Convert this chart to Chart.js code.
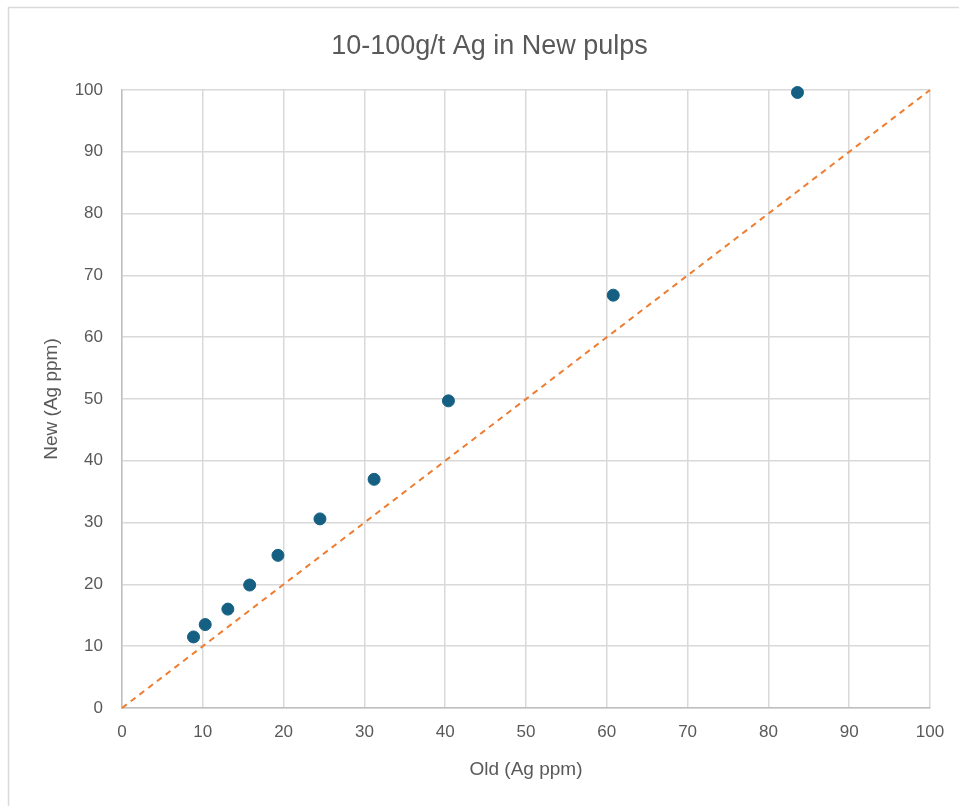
<!DOCTYPE html>
<html>
<head>
<meta charset="utf-8">
<script src="https://cdn.jsdelivr.net/npm/chart.js@4"></script>
<style>
  html, body { margin: 0; padding: 0; background: #fff; }
  #wrap { position: relative; width: 959px; height: 806px; }
</style>
</head>
<body>
<div id="wrap"><canvas id="c" width="959" height="806"></canvas></div>
<script>
// ---- data ----
const oldAg = [8.85, 10.3, 13.1, 15.8, 19.3, 24.5, 31.2, 40.4, 60.8, 83.6];
const newAg = [11.5, 13.5, 16.0, 19.9, 24.7, 30.6, 37.0, 49.7, 66.8, 99.6];
const lineX = [0, 100];
const lineY = [0, 100];
const chartTitle = '10-100g/t Ag in New pulps';
const xTitle = 'Old (Ag ppm)';
const yTitle = 'New (Ag ppm)';

const pts = oldAg.map((x, i) => ({ x: x, y: newAg[i] }));
const linePts = lineX.map((x, i) => ({ x: x, y: lineY[i] }));

const frame = {
  id: 'frame',
  beforeDraw(chart) {
    const ctx = chart.ctx;
    ctx.save();
    ctx.fillStyle = '#ffffff';
    ctx.fillRect(0, 0, chart.width, chart.height);
    ctx.strokeStyle = '#d9d9d9';
    ctx.lineWidth = 1.5;
    ctx.strokeRect(8.5, 7.5, 1200, 1200);
    ctx.restore();
  }
};

const txt = '#595959';
new Chart(document.getElementById('c'), {
  type: 'scatter',
  data: {
    datasets: [
      {
        label: 'Ag',
        data: pts,
        backgroundColor: '#156082',
        borderColor: '#156082',
        pointRadius: 6,
        pointHoverRadius: 6,
        clip: false,
        order: 1
      },
      {
        type: 'line',
        label: '1:1',
        data: linePts,
        borderColor: '#ED7D31',
        borderWidth: 2,
        borderDash: [6, 5],
        pointRadius: 0,
        fill: false,
        clip: false,
        order: 2
      }
    ]
  },
  options: {
    responsive: false,
    animation: false,
    devicePixelRatio: 1,
    layout: { padding: { left: 49, right: 29, top: 0, bottom: 0 } },
    plugins: {
      legend: { display: false },
      tooltip: { enabled: false },
      title: {
        display: true,
        text: chartTitle,
        color: txt,
        font: { family: 'Liberation Sans', size: 27, weight: 'normal' },
        padding: { top: 30.8, bottom: 26.8 }
      }
    },
    scales: {
      x: {
        type: 'linear',
        min: 0, max: 100,
        ticks: { stepSize: 10, color: txt, font: { family: 'Liberation Sans', size: 17 }, padding: 14, maxRotation: 0 },
        grid: { color: '#d9d9d9', lineWidth: 1.5, drawTicks: false },
        border: { color: '#bfbfbf', width: 1.5 },
        title: { display: true, text: xTitle, color: txt, font: { family: 'Liberation Sans', size: 19 }, padding: 25 },
        afterFit(s) { s.height = 98; }
      },
      y: {
        type: 'linear',
        min: 0, max: 100,
        ticks: { stepSize: 10, color: txt, font: { family: 'Liberation Sans', size: 17 }, padding: 19 },
        grid: { color: '#d9d9d9', lineWidth: 1.5, drawTicks: false },
        border: { color: '#bfbfbf', width: 1.5 },
        title: { display: true, text: yTitle, color: txt, font: { family: 'Liberation Sans', size: 19 }, padding: { top: -8.4, bottom: 0 } },
        afterFit(s) { s.width = 73; }
      }
    }
  },
  plugins: [frame]
});
</script>
</body>
</html>
